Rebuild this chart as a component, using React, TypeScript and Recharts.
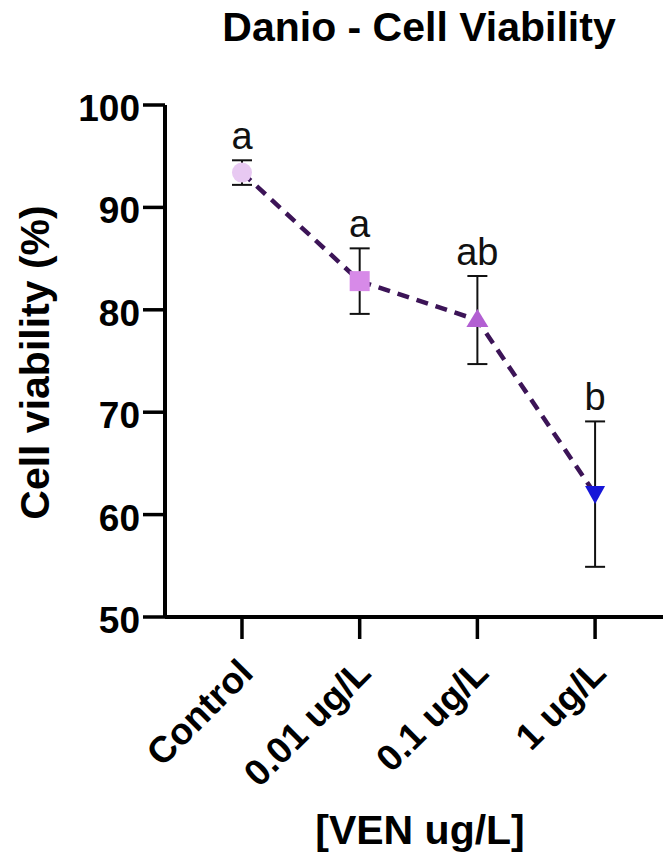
import React from "react"
import { LineChart, Line, XAxis, YAxis, ErrorBar, LabelList } from "recharts"

const groups = ["Control", "0.01 ug/L", "0.1 ug/L", "1 ug/L"]
const viability = [93.4, 82.8, 79.0, 62.0]
const sem = [1.2, 3.2, 4.3, 7.1]
const letters = ["a", "a", "ab", "b"]
const markerColors = ["#e8c9f2", "#d78ae8", "#b25fd2", "#1616d8"]
const yTicks = [50, 60, 70, 80, 90, 100]
const xTicks = [0, 1, 2, 3]

const data = groups.map((g, i) => ({
  x: i,
  name: g,
  mean: viability[i],
  err: sem[i],
  top: viability[i] + sem[i],
  letter: letters[i],
}))

const FONT = "'Liberation Sans', Arial, Helvetica, sans-serif"

function Marker(props: any) {
  const { cx, cy, index } = props
  if (cx == null || cy == null) return null
  const fill = markerColors[index]
  if (index === 0) return <circle cx={cx} cy={cy} r={10} fill={fill} />
  if (index === 1) return <rect x={cx - 10} y={cy - 10} width={20} height={20} fill={fill} />
  if (index === 2)
    return <polygon points={`${cx},${cy - 11} ${cx + 11},${cy + 7} ${cx - 11},${cy + 7}`} fill={fill} />
  return <polygon points={`${cx - 10},${cy - 8} ${cx + 10},${cy - 8} ${cx},${cy + 10}`} fill={fill} />
}

function XTick(props: any) {
  const { x, y, payload } = props
  return (
    <g transform={`translate(${x + 13},${y + 34})`}>
      <text transform="rotate(-45)" textAnchor="end" fontFamily={FONT} fontWeight="bold" fontSize={37} fill="#000">
        {groups[payload.value]}
      </text>
    </g>
  )
}

function YTick(props: any) {
  const { x, y, payload } = props
  return (
    <text x={x} y={y + 16} textAnchor="end" fontFamily={FONT} fontWeight="bold" fontSize={37} fill="#000">
      {payload.value}
    </text>
  )
}

const textStyle: React.CSSProperties = {
  position: "absolute",
  fontFamily: FONT,
  fontWeight: "bold",
  fontSize: 41,
  lineHeight: "41px",
  textAlign: "center",
  whiteSpace: "nowrap",
  color: "#000",
}

export default function App() {
  return (
    <div style={{ position: "absolute", left: 0, top: 0, width: 663, height: 859, background: "#fff", overflow: "hidden" }}>
      <div style={{ ...textStyle, left: 119, top: 7, width: 600 }}>Danio - Cell Viability</div>
      <div style={{ ...textStyle, left: -215, top: 342, width: 500, transform: "rotate(-90deg)" }}>
        Cell viability (%)
      </div>
      <div style={{ ...textStyle, left: 120, top: 810, width: 600 }}>[VEN ug/L]</div>
      <LineChart width={663} height={859} data={data} margin={{ top: 105, right: 0, bottom: 112, left: 0 }}>
        <XAxis
          dataKey="x"
          type="number"
          domain={[-0.654, 3.577]}
          ticks={xTicks}
          height={130}
          tickSize={22}
          axisLine={{ stroke: "#000", strokeWidth: 4 }}
          tickLine={{ stroke: "#000", strokeWidth: 3.5 }}
          tick={<XTick />}
          interval={0}
        />
        <YAxis
          type="number"
          domain={[50, 100]}
          ticks={yTicks}
          width={165}
          tickSize={22}
          tickMargin={3}
          axisLine={{ stroke: "#000", strokeWidth: 4 }}
          tickLine={{ stroke: "#000", strokeWidth: 3.5 }}
          tick={<YTick />}
          interval={0}
        />
        <Line dataKey="mean" stroke="none" dot={false} activeDot={false} isAnimationActive={false}>
          <ErrorBar dataKey="err" width={10} stroke="#111" strokeWidth={2} direction="y" isAnimationActive={false} />
        </Line>
        <Line
          dataKey="mean"
          stroke="none"
          dot={(p: any) => <Marker key={`m${p.index}`} {...p} />}
          activeDot={false}
          isAnimationActive={false}
        />
        <Line
          dataKey="mean"
          stroke="#3c1457"
          strokeWidth={4.5}
          strokeDasharray="12 8"
          dot={false}
          activeDot={false}
          isAnimationActive={false}
        />
        <Line dataKey="top" stroke="none" dot={false} activeDot={false} isAnimationActive={false}>
          <LabelList dataKey="letter" position="top" offset={11} fill="#111" fontSize={38} fontFamily={FONT} />
        </Line>
      </LineChart>
    </div>
  )
}
